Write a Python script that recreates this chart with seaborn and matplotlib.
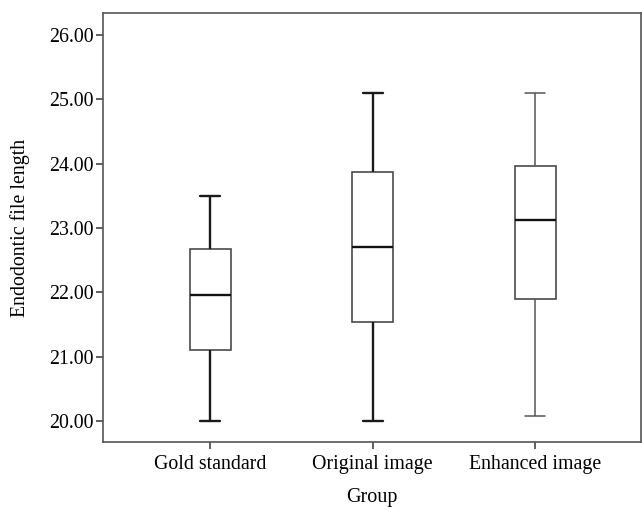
import matplotlib
matplotlib.use("Agg")
import matplotlib.pyplot as plt
import seaborn as sns
import pandas as pd

groups = ["Gold standard", "Original image", "Enhanced image"]
mins = [20.00, 20.00, 20.08]
q1s = [21.10, 21.54, 21.90]
medians = [21.95, 22.70, 23.13]
q3s = [22.67, 23.87, 23.96]
maxs = [23.50, 25.10, 25.10]
yticks = [20.0, 21.0, 22.0, 23.0, 24.0, 25.0, 26.0]

# five-number summaries as data; whis=(0,100) puts whiskers at min/max
rows = []
for g, a, b, c, d, e in zip(groups, mins, q1s, medians, q3s, maxs):
    for v in (a, b, c, d, e):
        rows.append({"Group": g, "value": v})
df = pd.DataFrame(rows)

sns.set_theme(style="ticks")
plt.rcParams["font.family"] = ["Liberation Serif", "DejaVu Serif"]
plt.rcParams["text.color"] = "black"
plt.rcParams["axes.labelcolor"] = "black"
plt.rcParams["xtick.labelcolor"] = "black"
plt.rcParams["ytick.labelcolor"] = "black"

fig = plt.figure(figsize=(6.42, 5.07), dpi=100)
ax = fig.add_axes([0.1604, 0.128, 0.8380, 0.846])

whisker_styles = [("#1a1a1a", 1.7), ("#1a1a1a", 1.7), ("#555555", 1.1)]
for g, (wc, wl) in zip(groups, whisker_styles):
    sns.boxplot(
        data=df[df["Group"] == g], x="Group", y="value", order=groups,
        whis=(0, 100), width=0.25, color="white", saturation=1,
        linecolor="#4a4a4a", linewidth=1.2, fliersize=0, ax=ax,
        medianprops={"color": "#111111", "linewidth": 1.7},
        whiskerprops={"color": wc, "linewidth": wl},
        capprops={"color": wc, "linewidth": wl},
    )

ax.set_xlim(-0.66, 2.65)
ax.set_ylim(19.67, 26.34)
ax.set_yticks(yticks)
ax.set_yticklabels([f"{t:.2f}" for t in yticks])
ax.tick_params(axis="both", labelsize=14.3, length=5, width=1.2, color="#444444",
               labelcolor="black", pad=1.5)
ax.tick_params(axis="x", pad=4)
for s in ax.spines.values():
    s.set_visible(True)
    s.set_color("#555555")
    s.set_linewidth(1.2)
ax.set_xlabel("Group", fontsize=14.5, color="black")
ax.set_ylabel("Endodontic file length", fontsize=14.3, color="black")
ax.xaxis.set_label_coords(0.5, -0.128, transform=ax.transAxes)
ax.yaxis.set_label_coords(-0.154, 0.5, transform=ax.transAxes)
ax.xaxis.label.set_va("center")
ax.yaxis.label.set_va("center")

fig.savefig("out.png", dpi=100)
